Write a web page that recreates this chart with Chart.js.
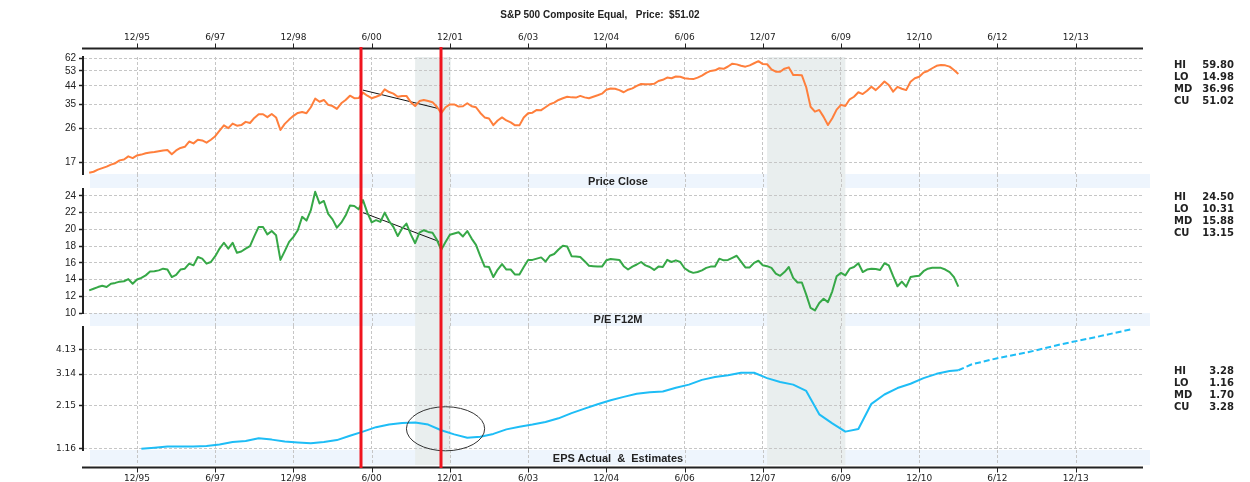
<!DOCTYPE html>
<html>
<head>
<meta charset="utf-8">
<title>S&amp;P 500 Composite Equal</title>
<script src="https://cdn.jsdelivr.net/npm/chart.js@4.4.1/dist/chart.umd.min.js"></script>
<style>
  html, body { margin: 0; padding: 0; background: #fff; }
  #wrap { position: relative; width: 1250px; height: 482px; overflow: hidden;
          font-family: "Liberation Sans", Arial, sans-serif; color: #222; }
  canvas { position: absolute; left: 0; }
  .lbl { position: absolute; white-space: pre; font-weight: bold; transform: translateX(-50%); z-index: 2; }
  .title { top: 9px; left: 600px; font-size: 10px; line-height: 12px; }
  .band { left: 618px; font-size: 11px; line-height: 13px; }
  .stats { position: absolute; left: 1174px; width: 60px; z-index: 2;
           font-family: "DejaVu Sans", Verdana, sans-serif; font-weight: bold; font-size: 10px; line-height: 12px; }
  .stats div { display: flex; justify-content: space-between; }
</style>
</head>
<body>
<div id="wrap">
  <canvas id="c1" width="1250" height="188" style="top:0px"></canvas>
  <canvas id="c2" width="1250" height="138" style="top:188px"></canvas>
  <canvas id="c3" width="1250" height="156" style="top:326px"></canvas>
  <div class="lbl title">S&amp;P 500 Composite Equal,   Price:  $51.02</div>
  <div class="lbl band" style="top:175px">Price Close</div>
  <div class="lbl band" style="top:313px">P/E F12M</div>
  <div class="lbl band" style="top:452px">EPS Actual  &amp;  Estimates</div>
  <div class="stats" id="s1" style="top:59px"></div>
  <div class="stats" id="s2" style="top:191px"></div>
  <div class="stats" id="s3" style="top:365px"></div>
</div>
<script>
// months counted from Jan 1995 (0 = 1/95)
const X_TICKS  = [11, 29, 47, 65, 83, 101, 119, 137, 155, 173, 191, 209, 227];
const X_LABELS = ['12/95', '6/97', '12/98', '6/00', '12/01', '6/03', '12/04', '6/06', '12/07', '6/09', '12/10', '6/12', '12/13'];

// monthly closes, Jan 1995 .. Sep 2011
const PRICE = [
  15.0, 15.2, 15.6, 15.9, 16.2, 16.6, 16.9, 17.5, 17.7, 18.4, 18.0, 18.6,
  18.8, 19.1, 19.3, 19.4, 19.6, 19.8, 19.9, 18.9, 19.8, 20.4, 20.7, 22.1,
  21.6, 22.6, 22.4, 21.8, 22.6, 23.6, 25.3, 27.0, 26.1, 27.6, 26.9, 27.1,
  28.2, 27.8, 29.6, 31.0, 31.0, 29.9, 31.1, 29.8, 25.5, 27.5, 29.0, 30.4,
  31.5, 31.9, 31.4, 33.8, 37.6, 36.2, 37.0, 34.8, 34.3, 33.1, 35.5, 37.0,
  39.0, 37.8, 37.9, 40.5, 39.0, 37.8, 38.5, 39.3, 42.2, 40.8, 40.0, 38.5,
  38.9, 38.9, 36.0, 34.3, 36.5, 37.0, 36.5, 36.0, 34.0, 31.4, 33.8, 35.0,
  35.0, 34.1, 34.2, 35.5, 34.2, 33.8, 31.5, 29.8, 29.4, 27.1, 28.7, 29.8,
  28.7, 28.0, 27.0, 27.0, 29.8, 31.4, 31.6, 32.7, 32.6, 33.8, 35.1, 35.8,
  37.0, 37.8, 38.5, 38.2, 38.1, 38.9, 38.2, 37.8, 38.5, 39.2, 40.0, 42.0,
  42.6, 42.5, 41.8, 40.7, 42.0, 42.7, 44.0, 45.1, 45.0, 45.0, 45.2, 46.8,
  47.5, 48.8, 48.4, 49.5, 49.3, 48.4, 48.1, 47.9, 48.8, 50.0, 51.8, 53.0,
  53.4, 54.8, 54.4, 56.0, 58.0, 57.5, 56.5, 55.9, 56.8, 58.3, 59.8, 57.7,
  57.6, 54.1, 52.5, 52.5, 54.5, 55.4, 50.4, 50.4, 50.2, 43.3, 34.0, 32.0,
  32.7, 30.0, 27.1, 29.5, 32.8, 34.8, 34.3, 37.3, 38.5, 40.7, 39.8, 41.5,
  43.6, 41.8, 44.0, 46.5, 44.5, 41.0, 43.5, 42.5, 41.8, 46.4, 48.4, 49.3,
  51.9, 53.0, 54.8, 56.5, 57.1, 56.8, 55.9, 53.6, 51.02
];

// forward 12m P/E, same months
const PE = [
  12.7, 12.9, 13.1, 13.25, 13.1, 13.5, 13.6, 13.75, 13.8, 14.05, 13.5, 14.0,
  14.2, 14.5, 14.95, 15.0, 15.1, 15.3, 15.2, 14.3, 14.55, 15.2, 15.3, 15.9,
  15.7, 16.7, 16.5, 15.9, 16.1, 16.8, 17.7, 18.4, 17.7, 18.4, 17.2, 17.35,
  17.7, 18.0, 19.2, 20.3, 20.3, 19.4, 19.8, 19.3, 16.35, 17.4, 18.5, 19.1,
  19.9, 21.5, 21.05, 22.3, 24.5, 23.1, 23.4, 21.85, 21.2, 20.2, 20.8, 21.65,
  22.85, 22.8, 22.4, 23.5, 22.0, 20.85, 21.1, 20.9, 22.0, 21.0, 20.3, 19.2,
  20.1, 20.7, 19.4, 18.35, 19.6, 19.9, 19.7, 19.6, 18.75, 17.55, 18.5, 19.35,
  19.5, 19.65, 19.15, 19.8, 18.9, 18.15, 16.8, 15.55, 15.5, 14.3, 15.2, 15.85,
  15.2, 15.2, 14.6, 14.6, 15.5, 16.35, 16.35, 16.5, 16.65, 16.15, 16.85, 17.05,
  17.6, 18.05, 17.95, 16.8, 16.75, 16.7, 16.2, 15.65, 15.6, 15.55, 15.55, 16.3,
  16.45, 16.4, 16.35, 15.6, 15.2, 15.55, 15.8, 16.1, 15.7, 15.5, 15.15, 15.55,
  15.5, 16.35, 16.1, 16.3, 16.1, 15.35, 15.0, 14.8, 14.9, 15.1, 15.4, 15.55,
  15.55, 16.5, 16.3, 16.35, 16.6, 16.85, 16.15, 15.45, 15.45, 16.0, 16.25, 15.7,
  15.6, 15.4, 14.7, 14.45, 14.9, 15.5, 14.2, 13.65, 13.65, 12.2, 10.6, 10.31,
  11.2, 11.7, 11.3, 12.6, 14.4, 14.8, 14.5, 15.3, 15.5, 15.95, 14.9, 15.2,
  15.3, 15.25, 15.15, 15.95, 15.7, 14.4, 13.2, 13.75, 13.15, 14.3, 14.4, 14.45,
  15.0, 15.3, 15.4, 15.4, 15.4, 15.2, 14.9, 14.3, 13.15
];

// EPS actual (quarterly) and estimates
const EPS_MONTHS = [12, 15, 18, 21, 24, 27, 30, 33, 36, 39, 42, 45, 48, 51, 54, 57, 60, 63, 66, 69,
  72, 75, 78, 81, 84, 87, 90, 93, 96, 99, 102, 105, 108, 111, 114, 117, 120, 123, 126, 129,
  132, 135, 138, 141, 144, 147, 150, 153, 156, 159, 162, 165, 168, 171, 174, 177, 180, 183, 186, 189,
  192, 195, 198, 200];
const EPS_ACTUAL = [1.16, 1.18, 1.20, 1.20, 1.20, 1.21, 1.24, 1.29, 1.31, 1.37, 1.34, 1.30, 1.28, 1.265, 1.29, 1.33, 1.42, 1.51, 1.61, 1.67,
  1.71, 1.72, 1.67, 1.54, 1.45, 1.38, 1.40, 1.46, 1.56, 1.62, 1.67, 1.73, 1.82, 1.95, 2.07, 2.19, 2.30, 2.40, 2.49, 2.54,
  2.56, 2.68, 2.78, 2.94, 3.04, 3.10, 3.19, 3.19, 3.00, 2.87, 2.78, 2.58, 1.92, 1.70, 1.51, 1.57, 2.20, 2.47, 2.67, 2.81,
  3.00, 3.15, 3.25, 3.28];
const EST_MONTHS = [200, 203, 209, 216, 224, 232, 240];
const EPS_EST = [3.28, 3.50, 3.75, 4.00, 4.37, 4.71, 5.10];

const PRICE_TICKS = [17, 26, 35, 44, 53, 62];
const PE_TICKS = [10, 12, 14, 16, 18, 20, 22, 24];
const EPS_TICKS = [1.16, 2.15, 3.14, 4.13];

const STAT_NAMES = ['HI', 'LO', 'MD', 'CU'];
const PRICE_STATS = ['59.80', '14.98', '36.96', '51.02'];
const PE_STATS = ['24.50', '10.31', '15.88', '13.15'];
const EPS_STATS = ['3.28', '1.16', '1.70', '3.28'];

// annotations (months / values)
const RECESSIONS = [[75, 83.2], [156, 174]];
const RED_LINES = [62.5, 81];
const TREND_MONTHS = [63, 80.5];
const PRICE_TREND = [41.8, 33.2];
const PE_TREND = [22.0, 18.55];
const ELLIPSE_MONTHS = [73, 91];
const ELLIPSE_EPS = [1.12, 2.12];

// ---------------------------------------------------------------
const LEFT = 83;
const X_MIN = -1.43, X_MAX = 242.5;
const GRID = '#c6c6c6';
const AXIS = '#222';
const SANS = "'Liberation Sans', Arial, sans-serif";
const WIDE = "'DejaVu Sans', Verdana, sans-serif";
const epsT = v => Math.log(v + 1.1);   // chart's compressed EPS scale

const pts = (xs, ys, f) => ys.map((v, i) => ({ x: xs ? xs[i] : i, y: f ? f(v) : v }));

function baseX(extra) {
  return Object.assign({
    type: 'linear', min: X_MIN, max: X_MAX, bounds: 'data',
    afterBuildTicks: s => { s.ticks = X_TICKS.map(v => ({ value: v })); },
    grid: { color: GRID, drawTicks: false, lineWidth: 1 },
    border: { display: false, dash: [3, 2] },
    ticks: { display: false, autoSkip: false, maxRotation: 0, color: '#222',
             font: { family: WIDE, size: 9 }, callback: (v, i) => X_LABELS[i] }
  }, extra);
}

function baseY(extra, tickList, fmt, font) {
  return Object.assign({
    position: 'left', bounds: 'data',
    afterFit: s => { s.width = LEFT; s.paddingTop = 0; s.paddingBottom = 0; },
    afterBuildTicks: s => { s.ticks = tickList.map(v => ({ value: v })); },
    grid: { color: GRID, lineWidth: 1, tickColor: AXIS, tickLength: 4, tickWidth: 1.5, tickBorderDash: [] },
    border: { display: true, color: AXIS, width: 2, dash: [3, 2] },
    ticks: { color: '#222', font: font, padding: 3, autoSkip: false, callback: fmt }
  }, extra);
}

function decor(cfg) {
  return {
    id: 'decor',
    beforeDraw(chart) {
      const { ctx, chartArea: a, scales: { x } } = chart;
      const bandBottom = a.bottom + cfg.band;
      ctx.save();
      ctx.fillStyle = '#eef5fd';
      ctx.fillRect(a.left + 7, a.bottom, a.right - a.left, cfg.band);
      ctx.fillStyle = '#e9eeee';
      RECESSIONS.forEach(([s, e]) => {
        const x1 = x.getPixelForValue(s), x2 = x.getPixelForValue(e);
        ctx.fillRect(x1, a.top, x2 - x1, bandBottom - a.top);
      });
      ctx.strokeStyle = GRID; ctx.lineWidth = 1; ctx.setLineDash([3, 2]);
      X_TICKS.forEach(m => {
        const px = Math.round(x.getPixelForValue(m)) + 0.5;
        ctx.beginPath(); ctx.moveTo(px, a.bottom); ctx.lineTo(px, bandBottom); ctx.stroke();
      });
      ctx.restore();
    },
    afterDatasetsDraw(chart) {
      const { ctx, chartArea: a, scales: { x, y } } = chart;
      ctx.save();
      if (cfg.ellipse) {
        const x1 = x.getPixelForValue(ELLIPSE_MONTHS[0]), x2 = x.getPixelForValue(ELLIPSE_MONTHS[1]);
        const y1 = y.getPixelForValue(epsT(ELLIPSE_EPS[1])), y2 = y.getPixelForValue(epsT(ELLIPSE_EPS[0]));
        ctx.strokeStyle = '#333'; ctx.lineWidth = 1;
        ctx.beginPath();
        ctx.ellipse((x1 + x2) / 2, (y1 + y2) / 2, (x2 - x1) / 2, (y2 - y1) / 2, 0, 0, Math.PI * 2);
        ctx.stroke();
      }
      if (cfg.axisY != null) {
        ctx.strokeStyle = AXIS; ctx.lineWidth = 2;
        ctx.beginPath(); ctx.moveTo(a.left - 1, cfg.axisY); ctx.lineTo(a.right, cfg.axisY); ctx.stroke();
        ctx.lineWidth = 1;
        X_TICKS.forEach(m => {
          const px = Math.round(x.getPixelForValue(m)) + 0.5;
          ctx.beginPath(); ctx.moveTo(px, cfg.axisY); ctx.lineTo(px, cfg.axisY + cfg.tickDir * 5); ctx.stroke();
        });
      }
      ctx.strokeStyle = '#f0141e'; ctx.lineWidth = 3;
      RED_LINES.forEach(m => {
        const px = Math.round(x.getPixelForValue(m));
        ctx.beginPath(); ctx.moveTo(px, cfg.redTop); ctx.lineTo(px, cfg.redBottom); ctx.stroke();
      });
      ctx.restore();
    }
  };
}

const common = {
  responsive: false, animation: false,
  elements: { point: { radius: 0 }, line: { tension: 0, borderJoinStyle: 'round' } },
  plugins: { legend: { display: false }, tooltip: { enabled: false } }
};

// Price close
new Chart(document.getElementById('c1'), {
  type: 'line',
  data: { datasets: [
    { data: pts(null, PRICE), borderColor: '#ff7f3c', borderWidth: 2 },
    { data: pts(TREND_MONTHS, PRICE_TREND), borderColor: '#111', borderWidth: 1 }
  ] },
  options: Object.assign({}, common, {
    layout: { padding: { left: 0, right: 107, top: 0, bottom: 14 } },
    scales: {
      x: baseX({ position: 'top', afterFit: s => { s.height = 57; },
        ticks: { display: true, padding: 14, autoSkip: false, maxRotation: 0, color: '#222',
                 font: { family: WIDE, size: 9 }, callback: (v, i) => X_LABELS[i] } }),
      y: baseY({ type: 'logarithmic', min: 14.78, max: 63.0 }, PRICE_TICKS, v => String(v),
               { family: SANS, size: 10 })
    }
  }),
  plugins: [decor({ band: 14, axisY: 48.5, tickDir: -1, redTop: 47, redBottom: 188 })]
});

// P/E F12M
new Chart(document.getElementById('c2'), {
  type: 'line',
  data: { datasets: [
    { data: pts(null, PE), borderColor: '#36a847', borderWidth: 2 },
    { data: pts(TREND_MONTHS, PE_TREND), borderColor: '#111', borderWidth: 1 }
  ] },
  options: Object.assign({}, common, {
    layout: { padding: { left: 0, right: 107, top: 0, bottom: 13 } },
    scales: {
      x: baseX({ position: 'bottom', afterFit: s => { s.height = 0; } }),
      y: baseY({ type: 'linear', min: 10, max: 24.95 }, PE_TICKS, v => String(v),
               { family: SANS, size: 10 })
    }
  }),
  plugins: [decor({ band: 13, redTop: 0, redBottom: 138 })]
});

// EPS actual & estimates
new Chart(document.getElementById('c3'), {
  type: 'line',
  data: { datasets: [
    { data: pts(EPS_MONTHS, EPS_ACTUAL, epsT), borderColor: '#1ebdf6', borderWidth: 2 },
    { data: pts(EST_MONTHS, EPS_EST, epsT), borderColor: '#1ebdf6', borderWidth: 2, borderDash: [6, 3] }
  ] },
  options: Object.assign({}, common, {
    layout: { padding: { left: 0, right: 107, top: 0, bottom: 0 } },
    scales: {
      x: baseX({ position: 'bottom', afterFit: s => { s.height = 32; },
        ticks: { display: true, padding: 23, autoSkip: false, maxRotation: 0, color: '#222',
                 font: { family: WIDE, size: 9 }, callback: (v, i) => X_LABELS[i] } }),
      y: baseY({ type: 'linear', min: 0.8044, max: 1.8506 }, EPS_TICKS.map(epsT),
               (v, i) => EPS_TICKS[i].toFixed(2), { family: WIDE, size: 9 })
    }
  }),
  plugins: [decor({ band: 15, axisY: 141.5, tickDir: 1, redTop: 0, redBottom: 142, ellipse: true })]
});

// stats at right
[['s1', PRICE_STATS], ['s2', PE_STATS], ['s3', EPS_STATS]].forEach(([id, vals]) => {
  document.getElementById(id).innerHTML = vals
    .map((v, i) => '<div><span>' + STAT_NAMES[i] + '</span><span>' + v + '</span></div>').join('');
});
</script>
</body>
</html>
